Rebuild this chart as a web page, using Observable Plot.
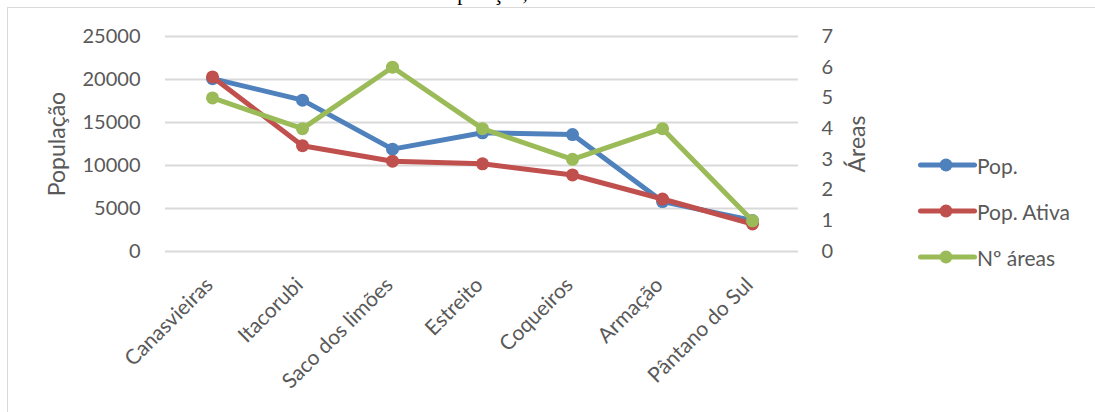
<!DOCTYPE html>
<html>
<head>
<meta charset="utf-8">
<script src="https://cdn.jsdelivr.net/npm/d3@7"></script>
<script src="https://cdn.jsdelivr.net/npm/@observablehq/plot@0.6"></script>
<style>
  html, body { margin: 0; padding: 0; background: #fff; }
  #wrap { position: relative; width: 1095px; height: 412px; overflow: hidden; background: #fff; }
  #frame { position: absolute; left: 7px; top: 7px; width: 1200px; height: 500px; border: 1.5px solid #d9d9d9; box-sizing: border-box; }
  #title { position: absolute; left: 435px; top: -16.6px; font: 21px "Liberation Serif", serif; line-height: 21px; color: #000; white-space: nowrap; }
  #chart { position: absolute; left: 0; top: 0; }
  #legend { position: absolute; left: 918px; top: 0; font: 21px Lato, sans-serif; color: #595959; }
  .item { position: absolute; left: 0; display: flex; align-items: center; white-space: nowrap; }
</style>
</head>
<body>
<div id="wrap">
  <div id="frame"></div>
  <div id="title">População,</div>
  <div id="chart"></div>
  <div id="legend"></div>
</div>
<script>
const categories = ["Canasvieiras", "Itacorubi", "Saco dos limões", "Estreito", "Coqueiros", "Armação", "Pântano do Sul"];
const pop = [20100, 17600, 11900, 13800, 13600, 5800, 3600];
const popAtiva = [20300, 12300, 10500, 10200, 8900, 6100, 3200];
const areas = [5, 4, 6, 4, 3, 4, 1];
const leftTicks = [0, 5000, 10000, 15000, 20000, 25000];
const rightTicks = [0, 1, 2, 3, 4, 5, 6, 7];
const seriesNames = ["Pop.", "Pop. Ativa", "Nº áreas"];
const seriesColors = ["#4f81bd", "#c0504d", "#9bbb59"];

const leftMax = 25000, rightMax = 7;
const toLeft = v => v * leftMax / rightMax;

const rows = [];
categories.forEach((c, i) => {
  rows.push({cat: c, series: seriesNames[0], v: pop[i]});
  rows.push({cat: c, series: seriesNames[1], v: popAtiva[i]});
  rows.push({cat: c, series: seriesNames[2], v: toLeft(areas[i])});
});

const marks = [
  Plot.gridY(leftTicks, {stroke: "#d9d9d9", strokeWidth: 2, strokeOpacity: 1}),
  Plot.axisY(leftTicks, {anchor: "left", tickSize: 0, tickPadding: 25, fontSize: 20, tickFormat: d => String(d), label: null}),
  Plot.axisY(rightTicks.map(toLeft), {anchor: "right", tickSize: 0, tickPadding: 23, fontSize: 20, tickFormat: d => String(Math.round(d * rightMax / leftMax)), label: null}),
  Plot.axisX({tickRotate: -45, tickSize: 0, tickPadding: 30, dx: -3, fontSize: 21, label: null}),
  Plot.text(["População"], {frameAnchor: "left", textAnchor: "middle", dx: -108, rotate: -90, fontSize: 23, fill: "#595959"}),
  Plot.text(["Áreas"], {frameAnchor: "right", textAnchor: "middle", dx: 59, rotate: -90, fontSize: 23, fill: "#595959"})
];
seriesNames.forEach((s, k) => {
  const d = rows.filter(r => r.series === s);
  marks.push(Plot.line(d, {x: "cat", y: "v", stroke: seriesColors[k], strokeWidth: 5, strokeLinejoin: "round", strokeLinecap: "round"}));
  marks.push(Plot.dot(d, {x: "cat", y: "v", r: 6.5, fill: seriesColors[k], stroke: "none"}));
});

const chart = Plot.plot({
  width: 1095,
  height: 412,
  marginLeft: 165,
  marginRight: 297,
  marginTop: 36,
  marginBottom: 161,
  style: {fontFamily: "Lato, sans-serif", color: "#595959", background: "transparent", overflow: "visible"},
  x: {type: "point", domain: categories, padding: 0.5, axis: null},
  y: {domain: [0, leftMax], axis: null},
  marks
});
document.getElementById("chart").appendChild(chart);

const legend = document.getElementById("legend");
const ys = [165, 211, 257];
seriesNames.forEach((s, k) => {
  const it = document.createElement("div");
  it.className = "item";
  it.style.top = (ys[k] - 15) + "px";
  it.style.height = "30px";
  it.innerHTML = `<svg width="59" height="30" style="display:block"><line x1="2.5" x2="56.5" y1="15" y2="15" stroke="${seriesColors[k]}" stroke-width="5" stroke-linecap="round"/><circle cx="28" cy="15" r="6.5" fill="${seriesColors[k]}"/></svg><span>${s}</span>`;
  legend.appendChild(it);
});
</script>
</body>
</html>
